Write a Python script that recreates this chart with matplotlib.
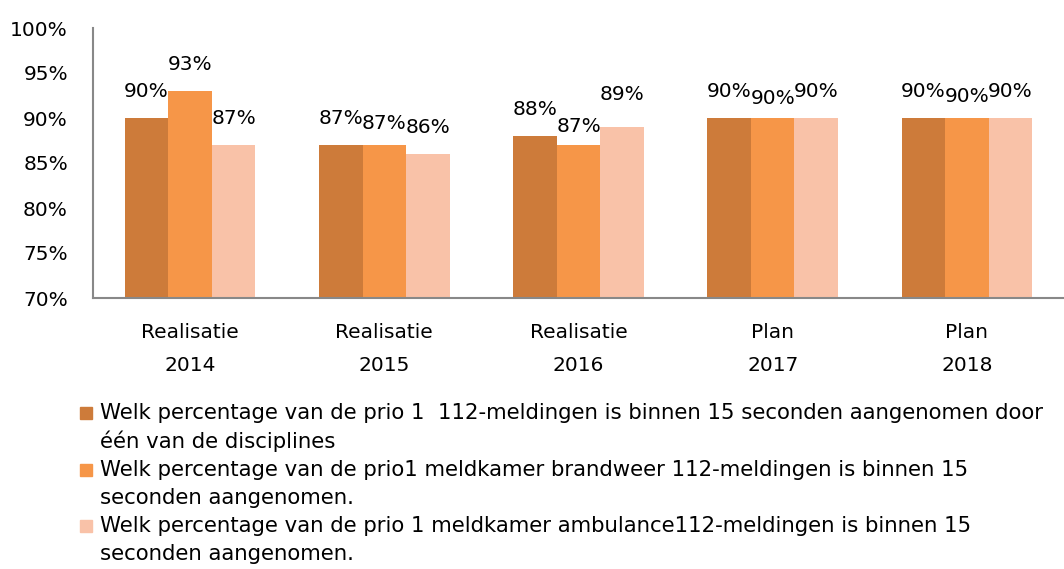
import numpy as np
import matplotlib.pyplot as plt
from matplotlib.patches import Rectangle

categories = ['Realisatie\n2014', 'Realisatie\n2015', 'Realisatie\n2016', 'Plan\n2017', 'Plan\n2018']
series_names = [
    'Welk percentage van de prio 1  112-meldingen is binnen 15 seconden aangenomen door\néén van de disciplines',
    'Welk percentage van de prio1 meldkamer brandweer 112-meldingen is binnen 15\nseconden aangenomen.',
    'Welk percentage van de prio 1 meldkamer ambulance112-meldingen is binnen 15\nseconden aangenomen.',
]
prio1_all = [90, 87, 88, 90, 90]
brandweer = [93, 87, 87, 90, 90]
ambulance = [87, 86, 89, 90, 90]
y_ticks = [70, 75, 80, 85, 90, 95, 100]

colors = ['#CD7B3A', '#F69648', '#F9C2A8']
# small vertical nudges (points) for overlapping labels, like Excel does
label_dy = [
    [0, 0, 0, 0, 0],
    [0, -4, -6, -5, -4],
    [0, 0, 4, 0, 0],
]

W, H = 1064, 569
fig = plt.figure(figsize=(W / 100, H / 100), dpi=100)
ax = fig.add_axes([93 / W, 1 - 298 / H, (W - 93) / W, 270 / H])

x = np.arange(len(categories))
bw = 0.224
series = [prio1_all, brandweer, ambulance]
for i, (vals, color) in enumerate(zip(series, colors)):
    pos = x + (i - 1) * bw
    ax.bar(pos, np.array(vals) - 70, bottom=70, width=bw, color=color, linewidth=0)
    for j, v in enumerate(vals):
        ax.annotate(f'{v}%', (pos[j], v), xytext=(0, 12.5 + label_dy[i][j]),
                    textcoords='offset points', ha='center', va='bottom', fontsize=14.5)

ax.set_xlim(-0.5, len(categories) - 0.5)
ax.set_ylim(70, 100)
ax.set_yticks(y_ticks)
ax.set_yticklabels([f'{t}%' for t in y_ticks], fontsize=14.5)
ax.set_xticks(x)
ax.set_xticklabels(categories, fontsize=14.5, linespacing=1.95)
ax.tick_params(axis='both', length=0)
ax.tick_params(axis='y', pad=18)
ax.tick_params(axis='x', pad=18)
for side in ['top', 'right']:
    ax.spines[side].set_visible(False)
for side in ['left', 'bottom']:
    ax.spines[side].set_color('#888888')
    ax.spines[side].set_linewidth(1.5)

# legend drawn by hand so the marker sits on the first line
entry_top = [413, 470, 526]
line_gap = 28
for name, color, ty in zip(series_names, colors, entry_top):
    fig.patches.append(Rectangle((80 / W, 1 - (ty + 6) / H), 12 / W, 12 / H,
                                 transform=fig.transFigure, color=color))
    for k, line in enumerate(name.split('\n')):
        fig.text(100 / W, 1 - (ty + k * line_gap) / H, line, ha='left', va='center',
                 fontsize=15.3)

fig.savefig('out.png', dpi=100)
